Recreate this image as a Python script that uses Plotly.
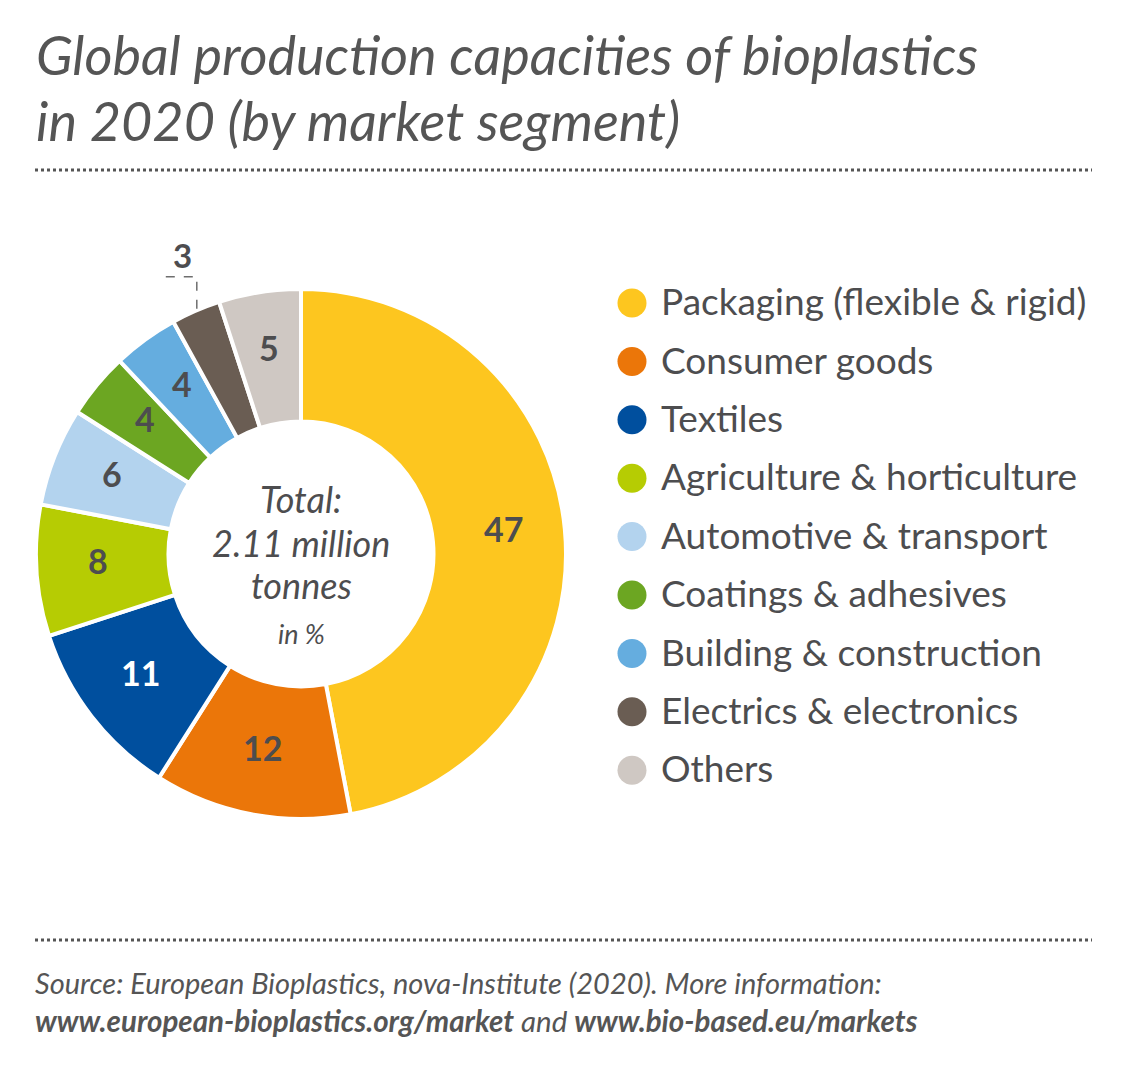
import math
import plotly.graph_objects as go

W, H = 1146, 1065

segments = ["Packaging (flexible & rigid)", "Consumer goods", "Textiles",
            "Agriculture & horticulture", "Automotive & transport",
            "Coatings & adhesives", "Building & construction",
            "Electrics & electronics", "Others"]
shares = [47, 12, 11, 8, 6, 4, 4, 3, 5]
colors = ["#FDC61F", "#EB7609", "#004F9E", "#B6CC03", "#B3D3EE",
          "#6CA622", "#65ADDF", "#6A5D53", "#CFC8C3"]
label_colors = ["#4D4D4F", "#4D4D4F", "#FFFFFF", "#4D4D4F", "#4D4D4F",
                "#4D4D4F", "#4D4D4F", "#4D4D4F", "#4D4D4F"]
outside_label = "Electrics & electronics"

TXT = "#4D4D4F"
FONT = "Lato"

# pie geometry (pixels)
cx, cy, R = 301, 554, 265
hole = 0.5
label_r = 203

fig = go.Figure()
fig.add_trace(go.Pie(
    labels=segments, values=shares,
    textinfo="none",
    marker=dict(colors=colors, line=dict(color="white", width=4)),
    sort=False, direction="clockwise", rotation=0, hole=hole,
    domain=dict(x=[(cx - R) / W, (cx + R) / W], y=[(H - cy - R) / H, (H - cy + R) / H]),
    showlegend=False, hoverinfo="label+value",
))

# slice value labels, positioned from the data (mid-angle of each slice)
total = sum(shares)
cum = 0
for s, v, lc in zip(segments, shares, label_colors):
    mid = cum + v / 2
    cum += v
    th = 2 * math.pi * mid / total
    if s == outside_label:
        px = cx + R * math.sin(th)
        py = cy - R * math.cos(th)
        fig.add_shape(type="path", xref="x", yref="y",
                      path=f"M {px + 1:.1f},{py - 2:.1f} L {px + 1:.1f},{py - 34:.1f} L {px - 30:.1f},{py - 34:.1f}",
                      line=dict(color="#6E6E6E", width=1.5, dash="dash"))
        fig.add_annotation(x=px - 13, y=py - 56, xref="x", yref="y", text=f"<b>{v}</b>",
                           showarrow=False, font=dict(family=FONT, size=33, color=TXT))
        continue
    fig.add_annotation(x=cx + label_r * math.sin(th), y=cy - label_r * math.cos(th) - 6,
                       xref="x", yref="y", text=f"<b>{v}</b>", showarrow=False,
                       font=dict(family=FONT, size=34, color=lc))

# custom legend with circular markers
leg_x, leg_tx = 632, 661
leg_y0, leg_dy = 303, 58.4
leg_y = [leg_y0 + i * leg_dy for i in range(len(segments))]
fig.add_trace(go.Scatter(
    x=[leg_x] * len(segments), y=leg_y, mode="markers",
    marker=dict(size=29, color=colors, line=dict(width=0)),
    showlegend=False, hoverinfo="skip", cliponaxis=False,
))
fig.add_trace(go.Scatter(
    x=[leg_tx] * len(segments), y=[v + 3 for v in leg_y], mode="text",
    text=segments, textposition="middle right",
    textfont=dict(family=FONT, size=37, color=TXT),
    showlegend=False, hoverinfo="skip", cliponaxis=False,
))

# centre text
center_lines = [("<i>Total:</i>", 499, 36), ("<i>2.11 million</i>", 543, 36),
                ("<i>tonnes</i>", 585, 36), ("<i>in %</i>", 633, 27)]
for t, yy, fs in center_lines:
    fig.add_annotation(x=cx, y=yy, xref="x", yref="y", text=t, showarrow=False,
                       font=dict(family=FONT, size=fs, color=TXT))

# title
fig.add_annotation(x=34, y=54, xref="x", yref="y", xanchor="left", yanchor="middle",
                   text="<i>Global production capacities of bioplastics</i>", showarrow=False,
                   font=dict(family=FONT, size=54, color="#555555"))
fig.add_annotation(x=34, y=120, xref="x", yref="y", xanchor="left", yanchor="middle",
                   text="<i>in 2020 (by market segment)</i>", showarrow=False,
                   font=dict(family=FONT, size=54, color="#555555"))

# dotted rules
for yy in (170, 940):
    fig.add_shape(type="line", xref="x", yref="y", x0=35, x1=1092, y0=yy, y1=yy,
                  line=dict(color="#555555", width=3, dash="dot"))

# source
fig.add_annotation(x=33, y=982, xref="x", yref="y", xanchor="left", yanchor="middle",
                   text="<i>Source: European Bioplastics, nova-Institute (2020). More information:</i>",
                   showarrow=False, font=dict(family=FONT, size=29, color="#555555"))
fig.add_annotation(x=33, y=1020, xref="x", yref="y", xanchor="left", yanchor="middle",
                   text="<i><b>www.european-bioplastics.org/market</b> and <b>www.bio-based.eu/markets</b></i>",
                   showarrow=False, font=dict(family=FONT, size=29.5, color="#555555"))

fig.update_layout(
    width=W, height=H, margin=dict(l=0, r=0, t=0, b=0),
    paper_bgcolor="white", plot_bgcolor="white",
    xaxis=dict(range=[0, W], visible=False, domain=[0, 1], fixedrange=True),
    yaxis=dict(range=[H, 0], visible=False, domain=[0, 1], fixedrange=True),
)

fig.write_html("out.html", config={"displayModeBar": False},
               post_script="document.body.style.margin='0';document.body.style.overflow='hidden';")
